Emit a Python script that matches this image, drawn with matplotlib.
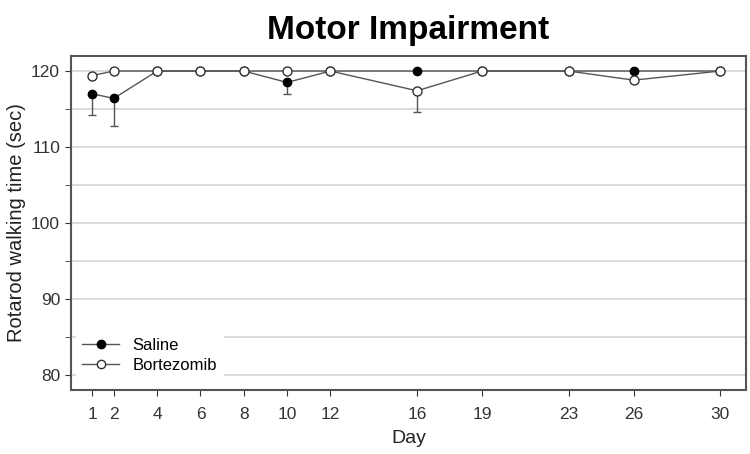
import matplotlib.pyplot as plt
from matplotlib.lines import Line2D
from matplotlib.ticker import MultipleLocator

plt.rcParams['font.family'] = ['Liberation Sans', 'DejaVu Sans']

days = [1, 2, 4, 6, 8, 10, 12, 16, 19, 23, 26, 30]
saline = [117.0, 116.4, 120, 120, 120, 118.5, 120, 120, 120, 120, 120, 120]
saline_err = [2.8, 3.6, 0, 0, 0, 1.5, 0, 0, 0, 0, 0, 0]
bortezomib = [119.4, 120, 120, 120, 120, 120, 120, 117.4, 120, 120, 118.8, 120]
bortezomib_err = [0, 0, 0, 0, 0, 0, 0, 2.8, 0, 0, 0, 0]

fig = plt.figure(figsize=(7.5, 4.54), dpi=100)
ax = fig.add_axes([0.094, 0.141, 0.901, 0.736])

ax.yaxis.grid(True, which='both', color='#d4d4d4', linewidth=1.2)
ax.set_axisbelow(True)

ax.errorbar(days, saline, yerr=[saline_err, [0] * len(days)], color='#555555',
            marker='o', markersize=6, markerfacecolor='black', markeredgecolor='black',
            linewidth=1, capsize=3, elinewidth=1, zorder=3)
ax.errorbar(days, bortezomib, yerr=[bortezomib_err, [0] * len(days)], color='#555555',
            marker='o', markersize=6.5, markerfacecolor='white', markeredgecolor='#333333',
            linewidth=1, capsize=3, elinewidth=1, zorder=4)

ax.set_xlim(0, 31.2)
ax.set_ylim(78, 122)
ax.set_xticks(days)
ax.yaxis.set_major_locator(MultipleLocator(10))
ax.yaxis.set_minor_locator(MultipleLocator(5))
ax.tick_params(axis='both', which='both', direction='out', colors='#333333', labelsize=12.5, length=4)
ax.tick_params(axis='x', pad=8)
for s in ax.spines.values():
    s.set_color('#555555')
    s.set_linewidth(1.5)

ax.set_title('Motor Impairment', fontsize=24, fontweight='bold', pad=12)
ax.set_xlabel('Day', fontsize=14, color='#222222', labelpad=6)
ax.set_ylabel('Rotarod walking time (sec)', fontsize=14.5, color='#222222')

handles = [
    Line2D([], [], color='#555555', marker='o', markersize=6, markerfacecolor='black',
           markeredgecolor='black', linewidth=1),
    Line2D([], [], color='#555555', marker='o', markersize=6, markerfacecolor='white',
           markeredgecolor='#333333', linewidth=1),
]
leg = ax.legend(handles, ['Saline', 'Bortezomib'], loc='lower left', frameon=True,
                fontsize=12, borderaxespad=0.3, handlelength=2.2, fancybox=False,
                labelspacing=0.3, bbox_to_anchor=(0, 0.015))
leg.get_frame().set_edgecolor('white')
leg.get_frame().set_facecolor('white')
leg.get_frame().set_alpha(1)

fig.savefig('out.png', dpi=100)
